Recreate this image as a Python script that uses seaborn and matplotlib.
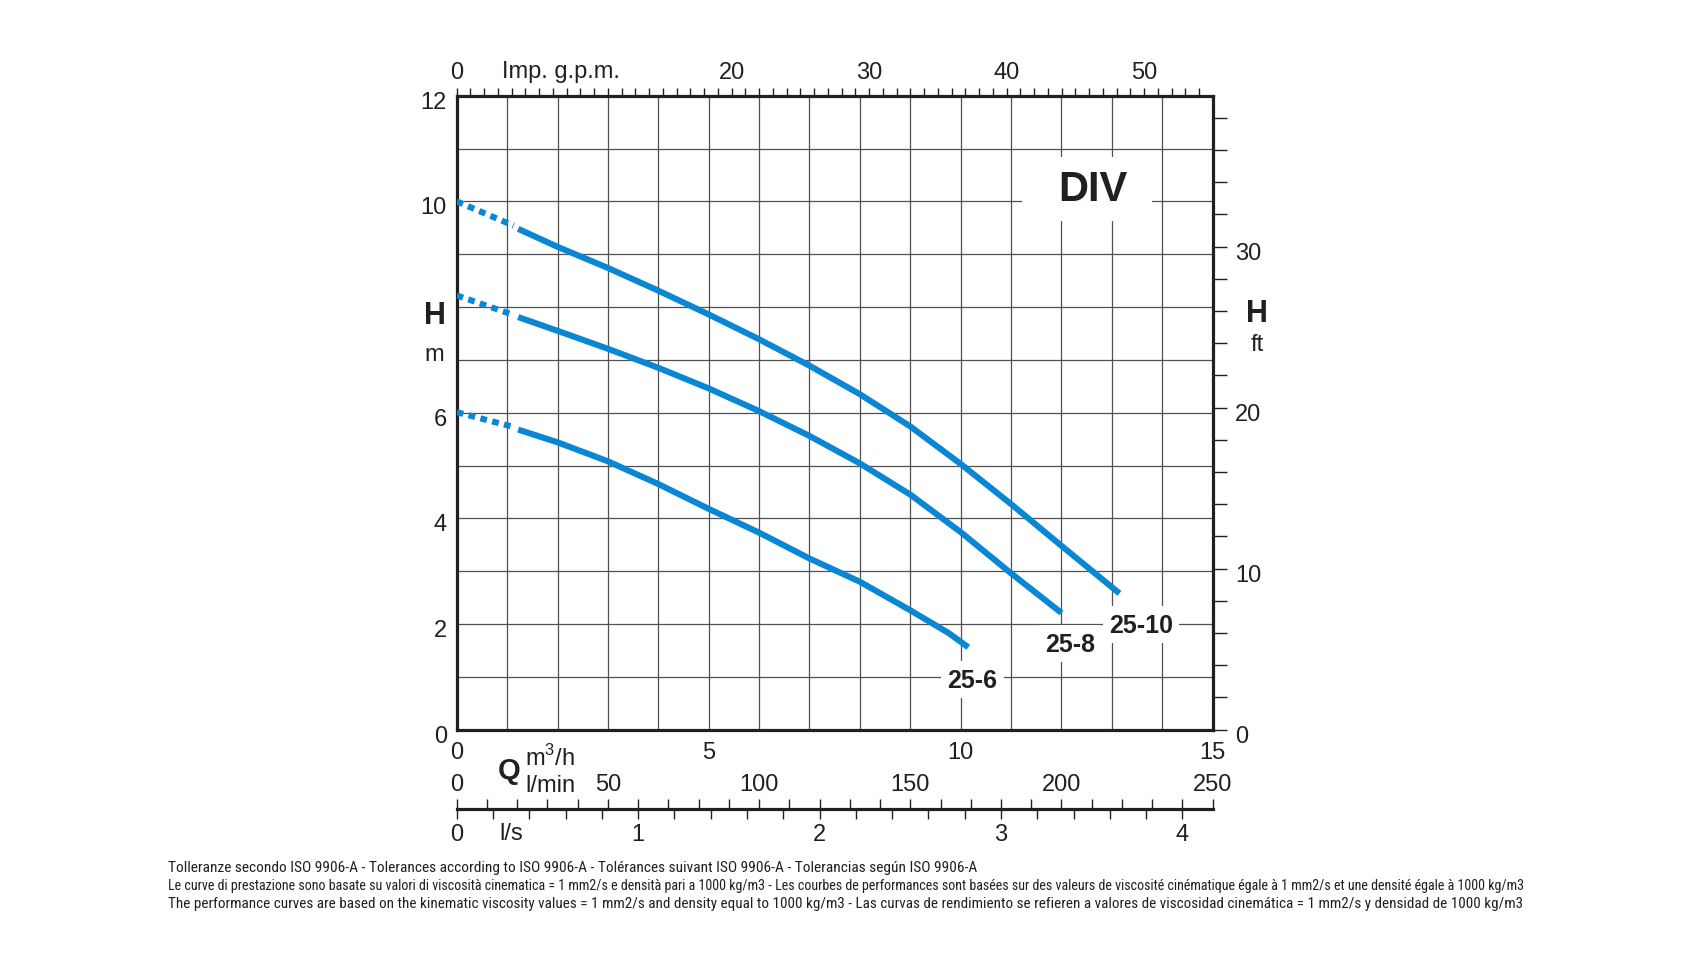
import numpy as np
import pandas as pd
import matplotlib
matplotlib.use("Agg")
import matplotlib.pyplot as plt
import matplotlib.transforms as mtransforms
from matplotlib.patches import Rectangle
from matplotlib import font_manager
from matplotlib.font_manager import FontProperties
import seaborn as sns
from matplotlib.ticker import MultipleLocator, FixedLocator

# ---------------- data ----------------
q_dash = [0.0, 1.13]
h_dash_25_10 = [10.0, 9.54]
h_dash_25_8 = [8.22, 7.85]
h_dash_25_6 = [6.01, 5.73]

q_25_10 = [1.22, 2, 3, 4, 5, 6, 7, 8, 9, 10, 11, 12, 13.15]
h_25_10 = [9.48, 9.14, 8.74, 8.31, 7.86, 7.39, 6.89, 6.35, 5.74, 5.03, 4.27, 3.48, 2.58]

q_25_8 = [1.22, 2, 3, 4, 5, 6, 7, 8, 9, 10, 11, 12]
h_25_8 = [7.81, 7.55, 7.21, 6.85, 6.46, 6.03, 5.56, 5.04, 4.45, 3.74, 2.96, 2.21]

q_25_6 = [1.22, 2, 3, 4, 5, 6, 7, 8, 9, 9.76, 10.15]
h_25_6 = [5.68, 5.44, 5.08, 4.65, 4.18, 3.73, 3.24, 2.80, 2.26, 1.83, 1.56]

models = ["25-10", "25-8", "25-6"]
label_q = [13.58, 12.17, 10.23]
label_h = [1.99, 1.63, 0.95]

title_text = "DIV"
title_q, title_h = 12.63, 10.24

left_ticks = [0, 2, 4, 6, 8, 10, 12]
left_labels = ["0", "2", "4", "6", "", "10", "12"]
bottom_ticks = [0, 5, 10, 15]
gpm_labels = [0, 20, 30, 40, 50]
ft_labels = [0, 10, 20, 30]
lmin_labels = [0, 50, 100, 150, 200, 250]
lps_labels = [0, 1, 2, 3, 4]

footer = [
    "Tolleranze secondo ISO 9906-A - Tolerances according to ISO 9906-A - Tolérances suivant ISO 9906-A - Tolerancias según ISO 9906-A",
    "Le curve di prestazione sono basate su valori di viscosità cinematica = 1 mm2/s e densità pari a 1000 kg/m3 - Les courbes de performances sont basées sur des valeurs de viscosité cinématique égale à 1 mm2/s et une densité égale à 1000 kg/m3",
    "The performance curves are based on the kinematic viscosity values = 1 mm2/s and density equal to 1000 kg/m3 - Las curvas de rendimiento se refieren a valores de viscosidad cinemática = 1 mm2/s y densidad de 1000 kg/m3",
]

# ---------------- style ----------------
sns.set_style("white")
plt.rcParams["font.family"] = ["Liberation Sans", "DejaVu Sans"]
plt.rcParams["text.color"] = "#231f20"
plt.rcParams["xtick.color"] = "#231f20"
plt.rcParams["ytick.color"] = "#231f20"

W, H = 1700, 970
def fx(px):
    return px / W
def fy(py):
    return 1 - py / H

BLUE = "#0a87d4"
INK = "#231f20"
GRID = "#505050"
FS = 17

fig = plt.figure(figsize=(W / 100, H / 100), dpi=100)
L, R, T, B = 456.7, 1212.7, 96.7, 730.7
ax = fig.add_axes([fx(L), fy(B), (R - L) / W, (B - T) / H])
ax.set_xlim(0, 15)
ax.set_ylim(0, 12)

for s in ax.spines.values():
    s.set_linewidth(2.3)
    s.set_color(INK)
    s.set_visible(True)

ax.xaxis.set_major_locator(FixedLocator(bottom_ticks))
ax.xaxis.set_minor_locator(MultipleLocator(1))
ax.yaxis.set_major_locator(FixedLocator(left_ticks))
ax.yaxis.set_minor_locator(MultipleLocator(1))
ax.set_yticklabels(left_labels)
ax.grid(True, which="both", color=GRID, linewidth=0.9)
ax.set_axisbelow(True)
ax.tick_params(axis="both", which="both", length=0, labelsize=FS)
ax.tick_params(axis="x", pad=8)
ax.tick_params(axis="y", pad=7)

# curves
for qd, hd, q, h in [(q_dash, h_dash_25_10, q_25_10, h_25_10),
                     (q_dash, h_dash_25_8, q_25_8, h_25_8),
                     (q_dash, h_dash_25_6, q_25_6, h_25_6)]:
    sns.lineplot(x=qd, y=hd, ax=ax, color=BLUE, linewidth=4.4,
                 linestyle=(0, (1.1, 0.9)), dash_capstyle="butt",
                 sort=False, estimator=None, zorder=5)
    sns.lineplot(x=q, y=h, ax=ax, color=BLUE, linewidth=4.4,
                 solid_capstyle="butt", solid_joinstyle="round",
                 sort=False, estimator=None, zorder=5)
ax.set_xlabel("")
ax.set_ylabel("")

for name, lq, lh in zip(models, label_q, label_h):
    ax.text(lq, lh, name, ha="center", va="center", fontsize=18,
            fontweight="bold", color=INK, zorder=6,
            bbox=dict(boxstyle="square,pad=0.25", fc="white", ec="none"))

# title with white background panel (130 x 64 px)
panel = Rectangle((0, 0), 130, 64, fc="white", ec="none", zorder=4)
panel.set_transform(mtransforms.Affine2D().translate(-71, -32) +
                    mtransforms.ScaledTranslation(title_q, title_h, ax.transData))
ax.add_patch(panel)
ax.text(title_q, title_h, title_text, ha="center", va="center", fontsize=30,
        fontweight="bold", color=INK, zorder=6)

# top axis: Imp. g.p.m.
M3H_PER_GPM = 0.272765
top = ax.secondary_xaxis("top", functions=(lambda x: x / M3H_PER_GPM,
                                            lambda g: g * M3H_PER_GPM))
top.xaxis.set_major_locator(FixedLocator(gpm_labels))
top.xaxis.set_minor_locator(FixedLocator(list(range(0, 55))))
top.tick_params(which="both", direction="out", length=6, width=1.0,
                color=INK, labelsize=FS, pad=3)
top.spines["top"].set_visible(False)
fig.text(fx(561), fy(72), "Imp. g.p.m.", ha="center", va="center",
         fontsize=FS, color=INK)

# right axis: ft
FT_PER_M = 3.28084
right = ax.secondary_yaxis("right", functions=(lambda m: m * FT_PER_M,
                                               lambda f: f / FT_PER_M))
right.yaxis.set_major_locator(FixedLocator(ft_labels))
right.yaxis.set_minor_locator(FixedLocator(list(range(0, 40, 2))))
right.tick_params(which="both", direction="out", length=10, width=1.0,
                  color=INK, labelsize=FS, pad=6)
right.spines["right"].set_visible(False)

# axis titles
fig.text(fx(435), fy(316), "H", ha="center", va="center", fontsize=22,
         fontweight="bold", color=INK)
fig.text(fx(434), fy(355), "m", ha="center", va="center", fontsize=FS,
         color=INK)
fig.text(fx(1257), fy(314), "H", ha="center", va="center", fontsize=22,
         fontweight="bold", color=INK)
fig.text(fx(1257), fy(345), "ft", ha="center", va="center", fontsize=FS,
         color=INK)
fig.text(fx(509), fy(771), "Q", ha="center", va="center", fontsize=21,
         fontweight="bold", color=INK)
fig.text(fx(525), fy(758), r"m$^{\mathregular{3}}$/h", ha="left", va="center",
         fontsize=FS, color=INK)
fig.text(fx(525), fy(786), "l/min", ha="left", va="center", fontsize=FS,
         color=INK)
fig.text(fx(499), fy(834), "l/s", ha="left", va="center", fontsize=FS,
         color=INK)

# lower flow scales: l/min (above line) and l/s (below line)
LINE_Y = 810
ax2 = fig.add_axes([fx(L), fy(LINE_Y), (R - L) / W, 0.0001])
ax2.set_xlim(0, 250)
ax2.set_ylim(0, 1)
ax2.set_yticks([])
for k in ["left", "right", "top"]:
    ax2.spines[k].set_visible(False)
ax2.spines["bottom"].set_linewidth(2.3)
ax2.spines["bottom"].set_color(INK)
ax2.patch.set_alpha(0)
ax2.xaxis.set_ticks_position("top")
ax2.xaxis.set_major_locator(FixedLocator(lmin_labels))
ax2.xaxis.set_minor_locator(MultipleLocator(10))
ax2.tick_params(which="both", direction="out", length=7, width=1.0,
                color=INK, labelsize=FS, pad=3)
ax2.grid(False)

lps = ax2.secondary_xaxis("bottom", functions=(lambda x: x / 60.0,
                                               lambda s: s * 60.0))
lps.xaxis.set_major_locator(FixedLocator(lps_labels))
lps.xaxis.set_minor_locator(FixedLocator([i * 0.2 for i in range(0, 21)]))
lps.tick_params(which="both", direction="out", length=7, width=1.0,
                color=INK, labelsize=FS, pad=3)
lps.spines["bottom"].set_visible(False)

# nudge vertical-axis tick labels slightly down (as in the reference)
fig.canvas.draw()
down = mtransforms.ScaledTranslation(0, -3.5 / 100, fig.dpi_scale_trans)
for lbl in list(ax.get_yticklabels()) + list(right.get_yticklabels()):
    lbl.set_transform(lbl.get_transform() + down)

# footer font: a condensed sans face if one is installed
def _is_regular(f):
    return f.style == "normal" and str(f.weight).lower() in ("400", "normal", "regular", "book")
cond = [f for f in font_manager.fontManager.ttflist
        if _is_regular(f) and ("condensed" in str(f.stretch).lower()
                               or "Narrow" in f.name or "Condensed" in f.name)]
pref = ["Liberation Sans Narrow", "Roboto Condensed", "Open Sans Condensed",
        "DejaVu Sans", "Noto Sans"]
cond.sort(key=lambda f: pref.index(f.name) if f.name in pref else 99)
if cond:
    fprop = FontProperties(fname=cond[0].fname)
else:
    fprop = FontProperties(family=["Liberation Sans", "DejaVu Sans"])

renderer = fig.canvas.get_renderer()
ends = [977, 1525, 1522]
for line, yy, xe in zip(footer, [868, 886, 904], ends):
    t = fig.text(fx(168), fy(yy), line, ha="left", va="center",
                 fontproperties=fprop.copy(), color=INK)
    t.set_fontsize(11)
    for _ in range(3):
        wpx = t.get_window_extent(renderer).width
        t.set_fontsize(t.get_fontsize() * (xe - 168) / wpx)

fig.savefig("out.png", dpi=100, facecolor="white")
